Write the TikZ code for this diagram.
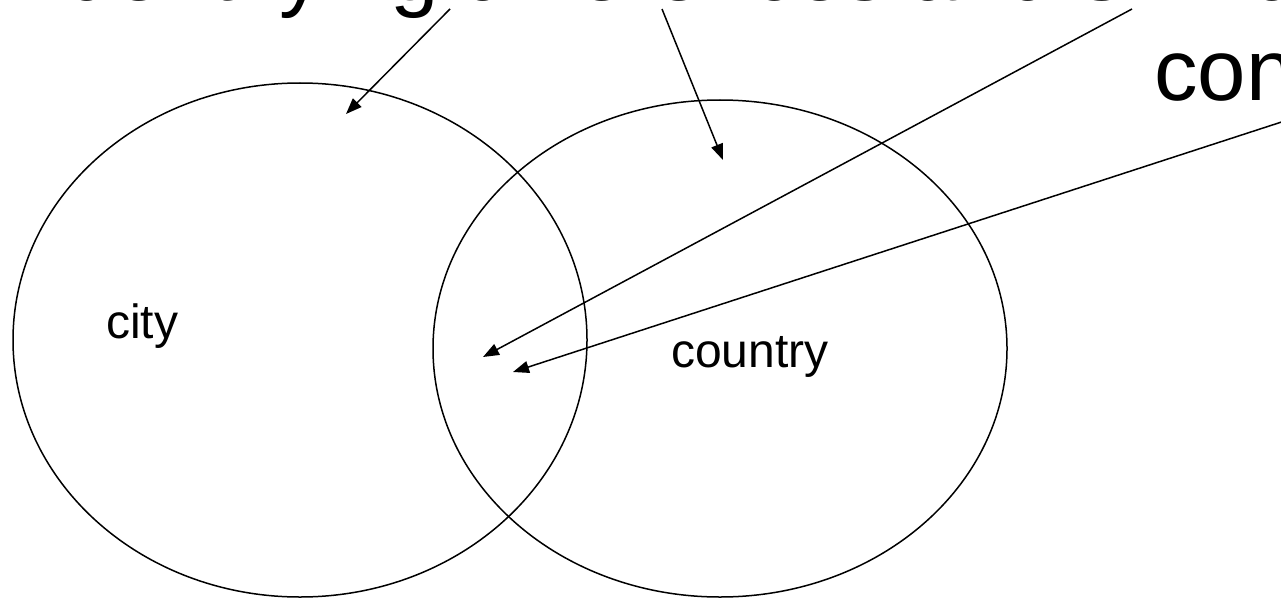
\documentclass[tikz,border=0pt]{standalone}
\usepackage{fontspec}
\setmainfont{Liberation Sans}
\usetikzlibrary{arrows.meta,shapes.geometric}
\tikzset{
  venn/.style={draw=black, line width=1.5pt, ellipse, inner sep=0pt},
  label48/.style={anchor=base west, inner sep=0pt, font=\fontsize{48}{58}\selectfont},
  bigtext/.style={anchor=base west, inner sep=0pt, font=\fontsize{87}{100}\selectfont},
  pointer/.style={draw=black, line width=1.5pt, -{Triangle[length=16pt,width=12pt]}}
}
\begin{document}
\begin{tikzpicture}[x=1pt,y=-1pt]
\useasboundingbox (0,0) rectangle (1281,599);
\clip (0,0) rectangle (1281,599);
\fill[white] (0,0) rectangle (1281,599);
% ellipses
\node[venn, minimum width=574pt, minimum height=514pt] (L) at (300,340) {};
\node[venn, minimum width=574pt, minimum height=497pt] (R) at (720,348.5) {};
% texts
\node[bigtext] (title) at (42,1) {Identifying differences and similarities};
\node[bigtext] (con) at (1154,101) {con};
\node[label48] (city) at (106,338) {city};
\node[label48] (country) at (671,367) {country};
% arrow ends
\coordinate (s1) at (450,9);
\coordinate (s2) at (662,9);
\coordinate (s3) at (1132,9);
\coordinate (s4) at (1300,116);
\coordinate (t1) at (346,114);
\coordinate (t2) at (723,160);
\coordinate (t3) at (483,357);
\coordinate (t4) at (513,372);
\draw[pointer] (s1) -- (t1);
\draw[pointer] (s2) -- (t2);
\draw[pointer] (s3) -- (t3);
\draw[pointer] (s4) -- (t4);
\end{tikzpicture}
\end{document}
